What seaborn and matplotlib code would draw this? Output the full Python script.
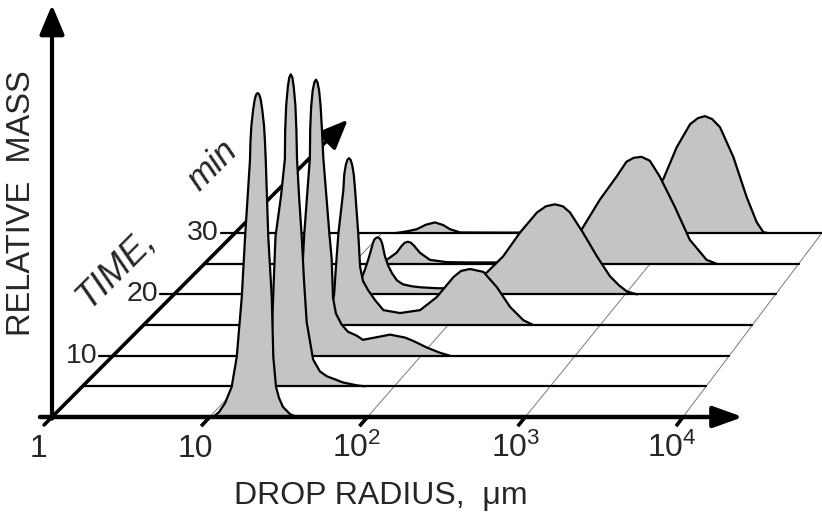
import numpy as np
import pandas as pd
import matplotlib
matplotlib.use("Agg")
import matplotlib.pyplot as plt
import seaborn as sns

# ------------------------------------------------------------------ data
# time of each distribution slice (min)
times = [0, 5, 10, 15, 20, 25, 30]

# drop-size distributions: log10(drop radius / um) and relative mass (peak of t=0 -> 100)
logr_t0 = [1.021, 1.059, 1.097, 1.139, 1.171, 1.203, 1.224, 1.255, 1.258, 1.264, 1.2755,
           1.285, 1.294, 1.304, 1.314, 1.323, 1.3325, 1.344, 1.350, 1.355, 1.371, 1.393,
           1.403, 1.420, 1.439, 1.464, 1.509, 1.551]
mass_t0 = [0, 1.5, 4.3, 9.3, 18.5, 37.0, 55.6, 79.3, 85.0, 90.0, 95.0,
           98.0, 99.5, 100, 99.5, 98.0, 95.0, 90.0, 85.0, 79.3, 55.6, 37.0,
           18.5, 9.3, 5.9, 3.1, 0.9, 0]

logr_t5 = [1.139, 1.177, 1.203, 1.216, 1.228, 1.238, 1.273, 1.298, 1.300, 1.3065, 1.317,
           1.326, 1.336, 1.346, 1.355, 1.3655, 1.372, 1.376, 1.389, 1.406, 1.421, 1.438,
           1.479, 1.523, 1.568, 1.671, 1.761, 1.812]
mass_t5 = [0, 1.5, 6.2, 18.5, 34.0, 46.3, 58.6, 70.1, 79.0, 86.7, 92.4,
           95.3, 96.3, 95.3, 92.4, 86.7, 79.0, 70.1, 58.6, 46.3, 32.4, 19.8,
           8.3, 4.6, 3.1, 1.2, 0.3, 0]

logr_t10 = [1.136, 1.168, 1.194, 1.214, 1.227, 1.241, 1.278, 1.280, 1.286, 1.296, 1.3066,
            1.317, 1.3274, 1.338, 1.348, 1.356, 1.365, 1.405, 1.419, 1.428, 1.447, 1.484,
            1.525, 1.581, 1.622, 1.700, 1.798, 1.895, 1.947, 2.038, 2.122, 2.187]
mass_t10 = [0, 1.5, 4.6, 12.3, 24.7, 37.3, 61.1, 69.9, 76.7, 81.8, 84.3,
            85.2, 84.3, 81.8, 76.7, 69.9, 61.1, 37.3, 30.2, 17.9, 13.0, 9.6,
            7.4, 6.2, 4.9, 5.6, 6.5, 5.6, 4.6, 2.5, 0.9, 0]

logr_t15 = [1.147, 1.193, 1.225, 1.252, 1.265, 1.280, 1.313, 1.3185, 1.329, 1.3395, 1.350,
            1.3605, 1.371, 1.3815, 1.390, 1.403, 1.411, 1.423, 1.442, 1.475, 1.521, 1.576,
            1.685, 1.817, 1.926, 2.036, 2.086, 2.145, 2.233, 2.321, 2.408, 2.495, 2.561]
mass_t15 = [0, 0.9, 3.7, 9.3, 18.5, 28.1, 41.7, 46.4, 49.4, 51.0, 51.5,
            51.0, 49.4, 46.4, 41.7, 33.3, 28.1, 17.9, 13.6, 10.8, 7.7, 4.6,
            3.7, 4.6, 8.6, 14.8, 16.7, 17.3, 16.4, 11.7, 5.6, 1.5, 0]

logr_t20 = [1.170, 1.204, 1.237, 1.270, 1.292, 1.317, 1.3224, 1.3317, 1.3424, 1.353,
            1.3636, 1.3743, 1.3836, 1.390, 1.403, 1.423, 1.450, 1.483, 1.523, 1.582,
            1.636, 1.749, 1.815, 1.888, 1.968, 2.081, 2.188, 2.301, 2.414, 2.473,
            2.533, 2.586, 2.633, 2.719, 2.813, 2.899, 2.959, 3.012, 3.079]
mass_t20 = [0, 0.9, 3.7, 7.7, 10.8, 14.8, 15.8, 16.9, 17.4, 17.6,
            17.4, 16.9, 15.8, 14.5, 11.7, 9.0, 6.5, 4.3, 3.1, 2.5,
            2.2, 1.9, 1.9, 2.5, 4.0, 6.8, 11.7, 19.1, 25.3, 27.2,
            27.8, 27.2, 25.3, 19.1, 11.7, 5.6, 2.8, 0.9, 0]

logr_t25 = [1.114, 1.168, 1.215, 1.248, 1.293, 1.329, 1.349, 1.369, 1.389, 1.410, 1.450,
            1.518, 1.630, 1.787, 1.989, 2.123, 2.258, 2.392, 2.538, 2.662, 2.774, 2.841,
            2.890, 2.942, 2.998, 3.065, 3.166, 3.267, 3.380, 3.447]
mass_t25 = [0, 0.3, 0.9, 1.9, 3.4, 5.6, 6.5, 6.8, 6.5, 5.6, 3.4,
            1.2, 0.5, 0.4, 0.4, 0.6, 1.9, 4.6, 10.5, 19.8, 26.9, 31.5,
            32.7, 33.0, 31.8, 26.9, 17.6, 7.4, 1.2, 0]

logr_t30 = [1.091, 1.125, 1.179, 1.239, 1.302, 1.363, 1.418, 1.466, 1.534, 1.806,
            2.215, 2.352, 2.488, 2.624, 2.761, 2.920, 3.011, 3.102, 3.156, 3.204,
            3.252, 3.306, 3.397, 3.488, 3.556, 3.601, 3.633]
mass_t30 = [0, 0.2, 0.6, 1.2, 2.6, 3.3, 2.5, 1.2, 0.2, 0.15,
            0.15, 0.3, 0.9, 3.1, 7.7, 16.7, 26.5, 33.6, 35.5, 36.1,
            35.2, 32.7, 23.5, 11.1, 3.4, 0.3, 0]

curves = {0: (logr_t0, mass_t0), 5: (logr_t5, mass_t5), 10: (logr_t10, mass_t10),
          15: (logr_t15, mass_t15), 20: (logr_t20, mass_t20), 25: (logr_t25, mass_t25),
          30: (logr_t30, mass_t30)}

x_tick_decades = [0, 1, 2, 3, 4]
x_tick_labels = ["1", "10", "$10^{2}$", "$10^{3}$", "$10^{4}$"]
time_tick_values = [10, 20, 30]
time_tick_labels = ["10", "20", "30"]

# ------------------------------------------------------------------ oblique view geometry
W, H = 822, 514
PX_PER_DECADE = 157.75
PX_PER_MASS = 3.24
ORIGIN_X, ORIGIN_Y = 52, 417
DEPTH_DX = 6.1 / PX_PER_DECADE      # decades of shift per minute of depth
DEPTH_DY = 6.13 / PX_PER_MASS       # mass units of shift per minute of depth
SHRINK = 0.002335                   # perspective shrink of the radius axis per minute
PXX = 1.0 / PX_PER_DECADE           # one pixel in x data units
PXY = 1.0 / PX_PER_MASS             # one pixel in y data units
PT = 0.72                           # one pixel in points (dpi 100)


def proj(logr, t, mass=0.0):
    logr = np.asarray(logr, dtype=float)
    mass = np.asarray(mass, dtype=float)
    return logr * (1 - SHRINK * t) + DEPTH_DX * t, mass + DEPTH_DY * t


# ------------------------------------------------------------------ figure
sns.set_theme(style="white")
plt.rcParams['font.family'] = ['Liberation Sans', 'DejaVu Sans']
plt.rcParams['mathtext.fontset'] = 'custom'
plt.rcParams['mathtext.rm'] = 'Liberation Sans'
plt.rcParams['mathtext.it'] = 'Liberation Sans:italic'
plt.rcParams['mathtext.bf'] = 'Liberation Sans:bold'

fig = plt.figure(figsize=(W / 100, H / 100), dpi=100)
ax = fig.add_axes([0, 0, 1, 1])
ax.set_axis_off()

FILL = '#c4c4c4'

# long table of projected curves
rows = []
for t in times:
    lr, ms = curves[t]
    X, Y = proj(lr, t, ms)
    for x, y, l, m in zip(X, Y, lr, ms):
        rows.append({'time': t, 'log_radius': l, 'mass': m, 'X': x, 'Y': y})
df = pd.DataFrame(rows)

# thin decade grid lines on the floor
for d in x_tick_decades[1:]:
    xa, ya = proj(d, 0)
    xb, yb = proj(d, 30)
    ax.plot([xa, xb], [ya, yb], color='#7a7a7a', lw=0.7, zorder=1)
    # short tick below the radius axis
    xc, yc = proj(d, -1.5)
    ax.plot([xc, xa], [yc, ya], color='black', lw=2.6, zorder=25, solid_capstyle='butt')

# time axis (oblique) with arrow
tail = proj(0, -1.3)
head = proj(0, 48.5)
ax.annotate('', xy=(float(head[0]), float(head[1])), xytext=(float(tail[0]), float(tail[1])),
            arrowprops=dict(arrowstyle='-|>,head_length=1.0,head_width=0.42', lw=2.6,
                            color='black', mutation_scale=18, shrinkA=0, shrinkB=0),
            zorder=2)

# slices, back to front
for t in sorted(times, reverse=True):
    z = 10 - t / 5
    sub = df[df['time'] == t]
    base = DEPTH_DY * t
    ax.fill_between(sub['X'], base, sub['Y'], color=FILL, lw=0, zorder=z)
    if t > 0:
        xa, ya = proj(0, t)
        xb, yb = proj(4, t)
        ax.plot([xa, xb], [ya, yb], color='black', lw=1.6, zorder=z + 0.1)
    sns.lineplot(data=sub, x='X', y='Y', sort=False, estimator=None, color='black',
                 lw=1.6, ax=ax, zorder=z + 0.2, legend=False, solid_joinstyle='round')

# time ticks and labels
for tv, lab in zip(time_tick_values, time_tick_labels):
    xa, ya = proj(0, tv)
    ax.plot([xa - 14 * PXX, xa], [ya, ya], color='black', lw=1.6, zorder=12)
    ax.annotate(lab, xy=(xa - 14 * PXX, ya), xytext=(-2 * PT, 0), textcoords='offset points',
                ha='right', va='center', fontsize=20.5, zorder=12)

# radius axis with arrow
ax.annotate('', xy=(4.38, 0), xytext=(-0.076, 0),
            arrowprops=dict(arrowstyle='-|>,head_length=1.0,head_width=0.36', lw=3.2,
                            color='black', mutation_scale=18, shrinkA=0, shrinkB=0),
            zorder=30)
# tick labels of radius axis
for d, lab, off in zip(x_tick_decades, x_tick_labels, [-14, -14, -11, -10, -11]):
    xa, ya = proj(d, 0)
    ax.annotate(lab, xy=(float(xa), float(ya)), xytext=(off * PT, -40 * PT),
                textcoords='offset points', ha='center', va='baseline', fontsize=23)

# mass axis with arrow
ax.annotate('', xy=(0, 127.2), xytext=(0, -0.5),
            arrowprops=dict(arrowstyle='-|>,head_length=1.0,head_width=0.42', lw=3.0,
                            color='black', mutation_scale=18, shrinkA=0, shrinkB=0),
            zorder=30)

# axis titles
ax.text((116 - ORIGIN_X) * PXX, (ORIGIN_Y - 268) * PXY, 'TIME,', rotation=45,
        rotation_mode='anchor', ha='center', va='center', style='italic', fontsize=26)
ax.text((213 - ORIGIN_X) * PXX, (ORIGIN_Y - 165) * PXY, 'min', rotation=45,
        rotation_mode='anchor', ha='center', va='center', style='italic', fontsize=25)
fig.text(21.5 / W, 1 - 203 / H, 'RELATIVE  MASS', rotation=90, ha='center', va='center',
         fontsize=23.5)
fig.text(381 / W, 1 - 496 / H, 'DROP RADIUS,  \u03bcm', ha='center', va='center',
         fontsize=23)

ax.set_xlim(-ORIGIN_X * PXX, (W - ORIGIN_X) * PXX)
ax.set_ylim(-(H - ORIGIN_Y) * PXY, ORIGIN_Y * PXY)

fig.savefig('out.png', dpi=100)
